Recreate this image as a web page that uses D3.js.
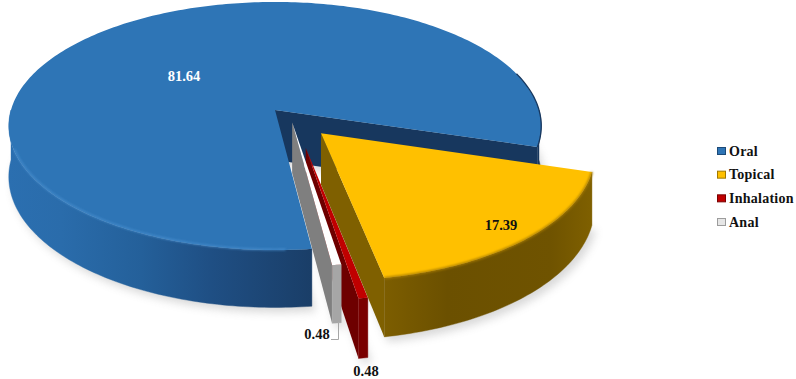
<!DOCTYPE html>
<html><head><meta charset="utf-8">
<script src="https://cdn.jsdelivr.net/npm/d3@7"></script>
<style>html,body{margin:0;padding:0;background:#fff}svg{display:block}
text{font-family:"Liberation Serif",serif;font-weight:bold}</style></head>
<body><svg id="c" width="796" height="379"></svg>
<script>
const categories = ["Oral","Topical","Inhalation","Anal"];
const values = [81.64,17.39,0.48,0.48];
const labels = ["81.64","17.39","0.48","0.48"];

// Projection and styling of the tilted pie
const cx=275, cy=110, R=264, K=122, P=0.129, H=50;
const startDeg=173;
const explodeU=[0,0.17,0.112,0.064], explodeV=[0,0.186,0.30,0.10];
const topCol=["#2e75b6","#ffc000","#c00000","#ffffff"];
const cutCol=["#17375e","#7f6000","#6e0000","#7f7f7f"];

const svg=d3.select("#c");
const defs=svg.append("defs");
defs.append("filter").attr("id","sh").attr("x","-10%").attr("y","-10%").attr("width","120%").attr("height","130%")
  .append("feGaussianBlur").attr("stdDeviation",4);
defs.append("filter").attr("id","soft").append("feGaussianBlur").attr("stdDeviation",1.1);
function grad(id,x1,x2,stops){
  const g=defs.append("linearGradient").attr("id",id).attr("gradientUnits","userSpaceOnUse")
    .attr("x1",x1).attr("x2",x2).attr("y1",0).attr("y2",0);
  stops.forEach(s=>g.append("stop").attr("offset",s[0]).attr("stop-color",s[1]));
}
grad("gOral",8,540,[[0,"#2b6fb0"],[0.1,"#2a6cab"],[0.25,"#24609a"],[0.38,"#1f4f84"],[0.57,"#1a3e68"],[1,"#17375e"]]);
grad("gTop",386,592,[[0,"#7c5d00"],[0.3,"#6b5000"],[0.8,"#6f5300"],[1,"#7f6000"]]);

const pie=d3.pie().sort(null).value(d=>d)
  .startAngle(startDeg*Math.PI/180).endAngle(startDeg*Math.PI/180+2*Math.PI);
const arcs=pie(values);
const rad=d=>d*Math.PI/180;

function proj(u,v,down){
  const s=1/(1-P*v);
  return [cx+R*u*s, cy+K*v*s+(down?H*s:0)];
}
function pt(i,a,r,down){
  return proj(explodeU[i]+r*Math.sin(a), explodeV[i]-r*Math.cos(a), down);
}
const line=d3.line();
function sample(a0,a1){
  const n=Math.max(2,Math.ceil(Math.abs(a1-a0)/rad(1)));
  return d3.range(n+1).map(k=>a0+(a1-a0)*k/n);
}
function topPath(i){
  const a=arcs[i];
  return line([pt(i,0,0,false),...sample(a.startAngle,a.endAngle).map(t=>pt(i,t,1,false))])+"Z";
}
function band(i,a0,a1){
  const ts=sample(a0,a1);
  return line([...ts.map(t=>pt(i,t,1,false)),...ts.slice().reverse().map(t=>pt(i,t,1,true))])+"Z";
}
function cut(i,a){
  return line([pt(i,a,0,false),pt(i,a,1,false),pt(i,a,1,true),pt(i,a,0,true)])+"Z";
}
function silhouette(i){
  const a=arcs[i];
  return line([pt(i,a.startAngle,0,true),...sample(a.startAngle,a.endAngle).map(t=>pt(i,t,1,true))])+"Z";
}
const front=(i)=>{ // parts of the rim that face the viewer
  const a=arcs[i], out=[];
  [[rad(90),rad(270)],[rad(450),rad(630)]].forEach(([lo,hi])=>{
    const s=Math.max(a.startAngle,lo), e=Math.min(a.endAngle,hi);
    if(e>s) out.push([s,e]);
  });
  return out;
};

// soft shadow
const shadow=svg.append("g").attr("filter","url(#sh)").attr("opacity",0.28).attr("transform","translate(4,5)");
[0,1,2,3].forEach(i=>shadow.append("path").attr("d",silhouette(i)).attr("fill","#777"));

const drawSlice=(i,sideFill,cutA)=>{
  const g=svg.append("g");
  cutA.forEach(a=>g.append("path").attr("d",cut(i,a)).attr("fill",cutCol[i]));
  front(i).forEach(([s,e])=>g.append("path").attr("d",band(i,s,e)).attr("fill",sideFill).attr("stroke",sideFill).attr("stroke-width",0.4));
  g.append("path").attr("d",topPath(i)).attr("fill",topCol[i]);
  return g;
};
// Oral
const gO=drawSlice(0,"url(#gOral)",[arcs[0].endAngle]);
gO.append("path").attr("fill","none").attr("stroke","#4a90d0").attr("stroke-width",1.4).attr("filter","url(#soft)")
  .attr("d",line(sample(rad(178),rad(252)).map(t=>pt(0,t,0.997,false))));
gO.append("path").attr("fill","none").attr("stroke","#17375e").attr("stroke-width",1.3)
  .attr("d",line(sample(rad(72),arcs[0].endAngle-2*Math.PI).map(t=>pt(0,t,1,false))));
// Inhalation, Anal, Topical
drawSlice(2,"#7a0000",[arcs[2].endAngle]);
drawSlice(3,"#a6a6a6",[arcs[3].endAngle]);
const gT=drawSlice(1,"url(#gTop)",[arcs[1].endAngle]);
gT.append("path").attr("fill","none").attr("stroke","#a87c00").attr("stroke-width",2).attr("filter","url(#soft)")
  .attr("d",line(sample(arcs[1].startAngle,arcs[1].endAngle).map(t=>pt(1,t,1,false))));

// leader line
svg.append("path").attr("d","M338.5,323V339.5H331").attr("fill","none").attr("stroke","#a6a6a6").attr("stroke-width",1);

// data labels
const labelPos=[[184,80.5,"#fff"],[501,230,"#111"],[317,339,"#111"],[366,376,"#111"]];
const order=[0,1,3,2];
order.forEach((i)=>{
  const p=labelPos[order.indexOf(i)];
  svg.append("text").attr("x",p[0]).attr("y",p[1]).attr("text-anchor","middle")
    .attr("font-size",14.5).attr("fill",p[2]).text(labels[i]);
});

// legend
const legendY=d3.scalePoint().domain(categories).range([151,222]);
const legendFill=["#2e75b6","#ffc000","#c00000","#e6e6e6"];
const legendEdge=["#1c4a78","#a07800","#7a0000","#9c9c9c"];
categories.forEach((c,i)=>{
  const y=legendY(c);
  svg.append("rect").attr("x",717.5).attr("y",y-3.5).attr("width",8).attr("height",7)
    .attr("fill",legendFill[i]).attr("stroke",legendEdge[i]).attr("stroke-width",1);
  svg.append("text").attr("x",729).attr("y",y+4.5).attr("font-size",14)
    .attr("letter-spacing",0.25).attr("fill","#111").text(c);
});
</script></body></html>
